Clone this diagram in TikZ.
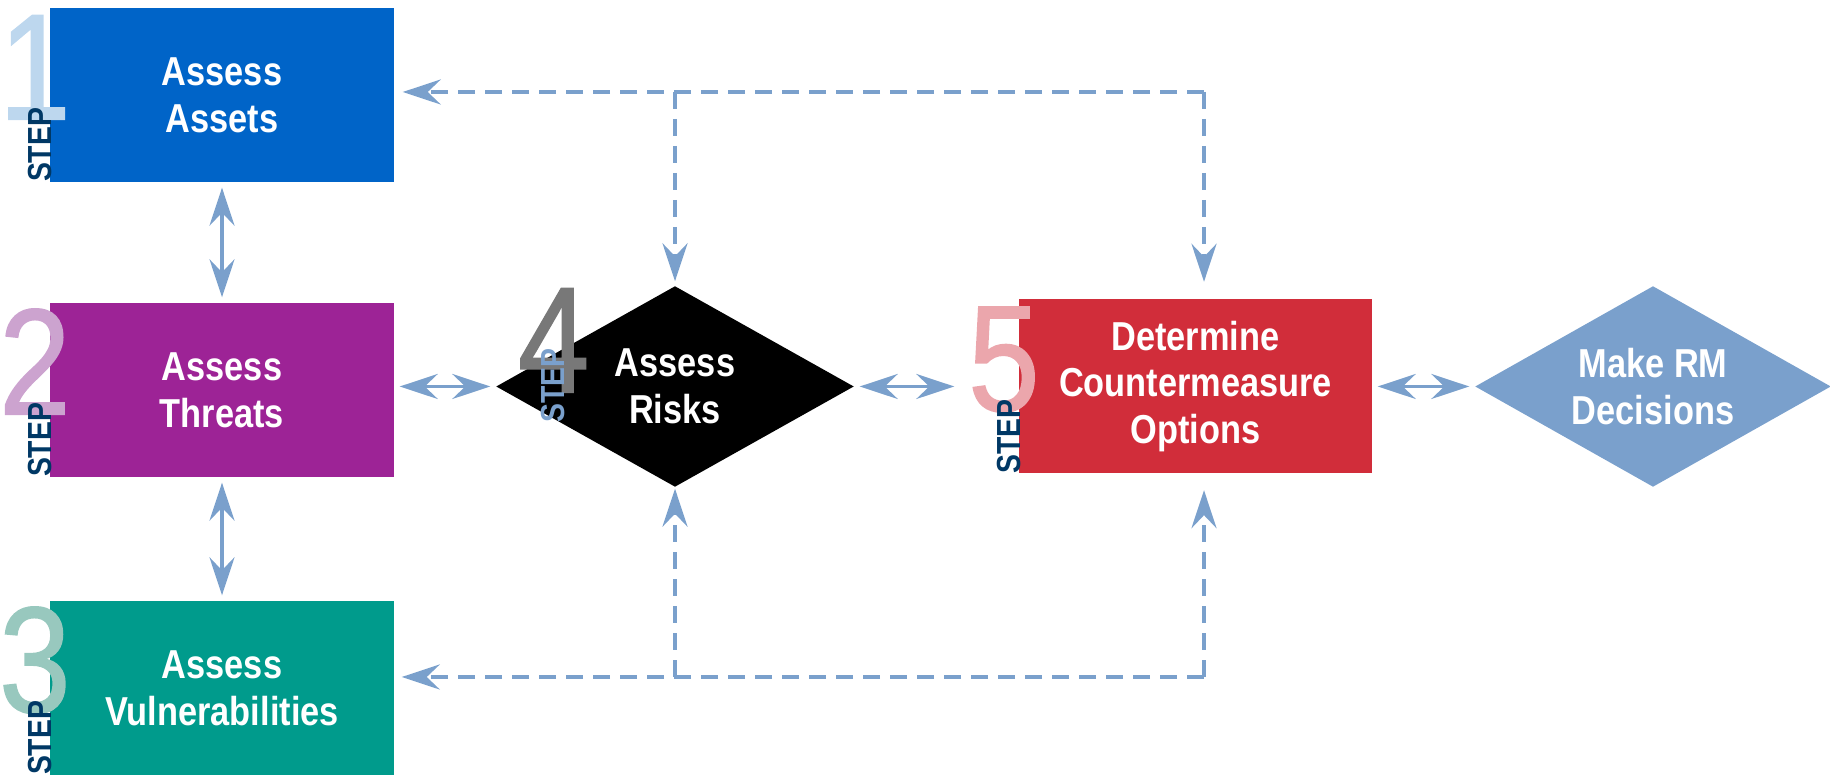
\documentclass[tikz,border=0pt]{standalone}
\usepackage{fontspec}
\setmainfont{Liberation Sans}[FakeStretch=0.85]
\newfontfamily\stepdigits{Liberation Sans}[FakeStretch=0.85, FakeBold=1]
\usetikzlibrary{arrows.meta,shapes.geometric}

\definecolor{assetblue}{RGB}{0,100,200}
\definecolor{threatpurple}{RGB}{157,35,150}
\definecolor{vulnteal}{RGB}{0,155,140}
\definecolor{optionred}{RGB}{209,45,58}
\definecolor{linkblue}{RGB}{122,160,204}
\definecolor{stepnavy}{RGB}{0,56,101}
\definecolor{numone}{RGB}{189,215,238}
\definecolor{numtwo}{RGB}{204,163,207}
\definecolor{numthree}{RGB}{152,200,190}
\definecolor{numfour}{RGB}{120,120,120}
\definecolor{numfive}{RGB}{235,166,172}

\tikzset{
  tip/.tip={Stealth[length=3.8mm,width=2.5mm,inset=1.3mm]},
  box/.style={rectangle, minimum width=3.44cm, minimum height=1.74cm, inner sep=0pt,
    text=white, align=center, font=\fontsize{11.5}{13.3}\selectfont\bfseries},
  dia/.style={diamond, aspect=1.78, minimum width=3.58cm, minimum height=2.01cm, inner sep=-1.5mm,
    text=white, align=center, font=\fontsize{11.5}{13.3}\selectfont\bfseries},
  stepnum/.style={inner sep=0pt, anchor=base east, font=\stepdigits\fontsize{43}{43}\selectfont},
  steplbl/.style={inner sep=0pt, rotate=90, anchor=base west, text=stepnavy,
    font=\fontsize{9.5}{9.5}\selectfont\bfseries},
  link/.style={draw=linkblue, line width=0.35mm, tip-tip, shorten <=0.5mm, shorten >=0.5mm},
  backlink/.style={draw=linkblue, line width=0.4mm, dash pattern=on 1.7mm off 1mm, -tip, shorten >=0.6mm}
}

\begin{document}
\begin{tikzpicture}
  \useasboundingbox (0,0) rectangle (18.30,-7.75);

  % the five steps
  \node[box, fill=assetblue] (assets) at (2.22,-0.95) {Assess\\Assets};
  \node[box, fill=threatpurple] (threats) at (2.22,-3.90) {Assess\\Threats};
  \node[box, fill=vulnteal] (vulns) at (2.22,-6.88) {Assess\\Vulnerabilities};
  \node[dia, fill=black] (risks) at (6.75,-3.865) {Assess\\Risks};
  \node[box, minimum width=3.53cm, fill=optionred] (options) at (11.955,-3.865) {Determine\\Countermeasure\\Options};
  \node[dia, minimum width=3.56cm, fill=linkblue] (decide) at (16.53,-3.865) {Make RM\\Decisions};

  % step numbers
  \node[stepnum, text=numone] (num1) at ([shift={(0.22,-1.12)}]assets.north west) {1};
  \node[stepnum, text=numtwo] (num2) at ([shift={(0.22,-1.12)}]threats.north west) {2};
  \node[stepnum, text=numthree] (num3) at ([shift={(0.22,-1.12)}]vulns.north west) {3};
  \node[stepnum, text=numfour] (num4) at ([shift={(-0.85,-0.06)}]risks.center) {4};
  \node[stepnum, text=numfive] (num5) at ([shift={(0.22,-1.12)}]options.north west) {5};
  \node[steplbl] (step1) at ([xshift=0.2mm]assets.south west) {STEP};
  \node[steplbl] (step2) at ([xshift=0.2mm]threats.south west) {STEP};
  \node[steplbl] (step3) at ([xshift=0.2mm]vulns.south west) {STEP};
  \node[steplbl, text=linkblue] (step4) at ([shift={(-1.11,-0.37)}]risks.center) {STEP};
  \node[steplbl] (step5) at ([xshift=0.2mm]options.south west) {STEP};

  % links
  \draw[link] (assets.south) -- (threats.north);
  \draw[link] (threats.south) -- (vulns.north);
  \draw[link] (threats.east |- risks.west) -- (risks.west);
  \draw[link, shorten >=6.4mm] (risks.east) -- (options.west);
  \draw[link] (options.east) -- (decide.west);

  % feedback loops
  \coordinate (topR) at (12.04,-0.92);
  \coordinate (botR) at (12.04,-6.77);
  \draw[backlink, shorten >=0.8mm] (topR) -- (assets.east |- topR);
  \draw[backlink, shorten >=0.4mm] (topR -| risks.north) -- (risks.north);
  \draw[backlink, shorten >=1.7mm] (topR) -- (options.north -| topR);
  \draw[backlink, shorten >=0.7mm] (botR) -- (vulns.east |- botR);
  \draw[backlink, shorten >=0.1mm] (botR -| risks.south) -- (risks.south);
  \draw[backlink, shorten >=1.6mm] (botR) -- (options.south -| botR);
\end{tikzpicture}
\end{document}
